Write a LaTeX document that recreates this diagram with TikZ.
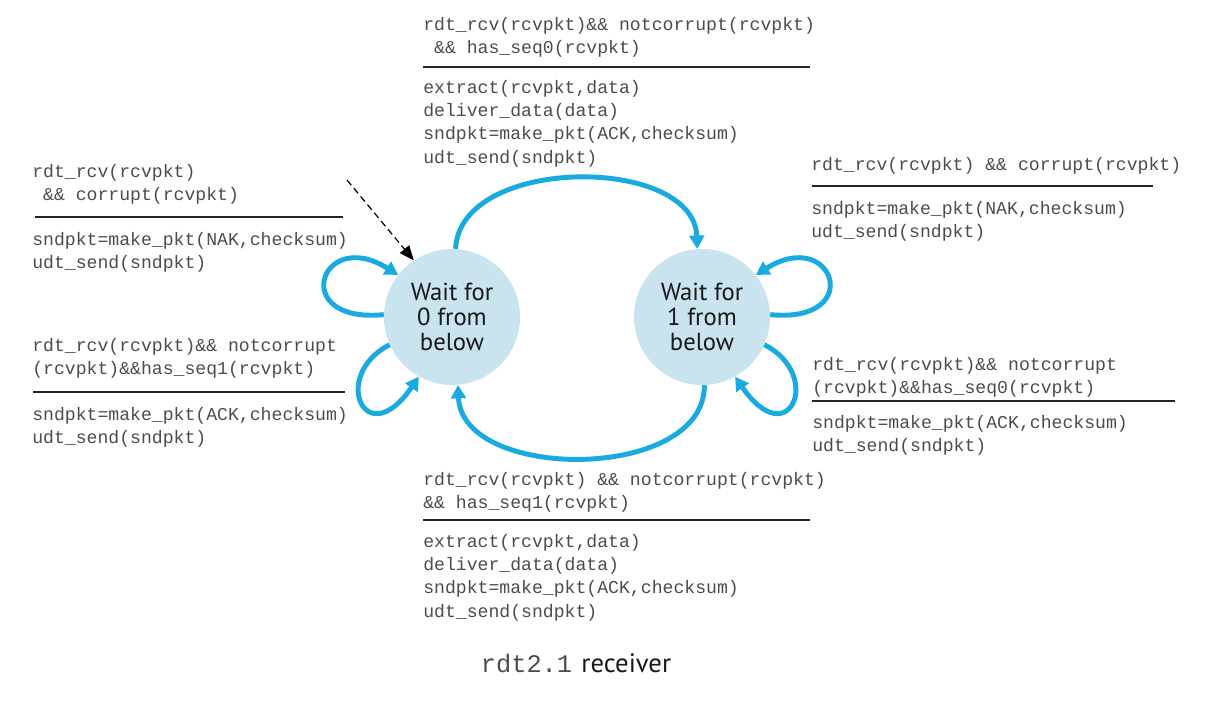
\documentclass[tikz,border=0pt]{standalone}
\usepackage{fontspec}
\setmonofont{Liberation Mono}
\newfontfamily\statefont{PT Sans}
\usetikzlibrary{arrows.meta}
\definecolor{fsmblue}{HTML}{1AAAE2}
\definecolor{statefill}{HTML}{C9E3EF}
\definecolor{codegray}{HTML}{4C4C4C}
\begin{document}
\begin{tikzpicture}[x=0.75pt,y=-0.75pt,
  code/.style={anchor=north west, inner sep=0pt, align=left,
    font=\ttfamily\fontsize{13.6}{17.5}\selectfont, text=codegray},
  state/.style={circle, fill=statefill, minimum size=102pt, inner sep=0pt,
    align=center, font=\statefont\fontsize{18.5}{18.75}\selectfont, text=black!90},
  trans/.style={draw=fsmblue, line width=3.7pt,
    -{Triangle[length=10pt,width=11pt]}},
  initarrow/.style={draw=black, dashed, dash pattern=on 5pt off 3pt, line width=0.9pt,
    -{Triangle[length=11pt,width=9pt]}},
  rulel/.style={draw=black!85, line width=1.1pt}]
\useasboundingbox (0,0) rectangle (1212,700);

% states
\node[state] (s0) at (452,317) {Wait for\\0 from\\below};
\node[state] (s1) at (702,317) {Wait for\\1 from\\below};

% initial arrow
\coordinate (init) at (347,180);
\draw[initarrow] (init) -- (s0.124);

% transitions
\draw[trans] (s0.87) .. controls (460,155) and (694,155) .. (s1.94);
\draw[trans] (s1.272) .. controls (705,482) and (462,482) .. (s0.275);
\draw[trans] (s0.178) .. controls (288,324) and (320,226) .. (s0.142);
\draw[trans] (s0.204) .. controls (330,375) and (365,455) .. (s0.241);
\draw[trans] (s1.2) .. controls (866,324) and (834,226) .. (s1.38);
\draw[trans] (s1.336) .. controls (824,375) and (789,455) .. (s1.299);

% top transition label
\node[code] (tc) at (423,13.7) {\strut rdt\_rcv(rcvpkt)\&\& notcorrupt(rcvpkt)\\\strut\hphantom{r}\&\& has\_seq0(rcvpkt)};
\coordinate (tra) at (423,67); \coordinate (trb) at (810,67);
\draw[rulel] (tra) -- (trb);
\node[code] (ta) at (423,76.7) {\strut extract(rcvpkt,data)\\\strut deliver\_data(data)\\\strut sndpkt=make\_pkt(ACK,checksum)\\\strut udt\_send(sndpkt)};

% left top
\node[code] (ltc) at (32,160.7) {\strut rdt\_rcv(rcvpkt)\\\strut\hphantom{r}\&\& corrupt(rcvpkt)};
\coordinate (ltra) at (35,217); \coordinate (ltrb) at (343,217);
\draw[rulel] (ltra) -- (ltrb);
\node[code] (lta) at (32,228.7) {\strut sndpkt=make\_pkt(NAK,checksum)\\\strut udt\_send(sndpkt)};

% left bottom
\node[code] (lbc) at (32,334.7) {\strut rdt\_rcv(rcvpkt)\&\& notcorrupt\\\strut(rcvpkt)\&\&has\_seq1(rcvpkt)};
\coordinate (lbra) at (33,392); \coordinate (lbrb) at (345,392);
\draw[rulel] (lbra) -- (lbrb);
\node[code] (lba) at (32,403.7) {\strut sndpkt=make\_pkt(ACK,checksum)\\\strut udt\_send(sndpkt)};

% right top
\node[code] (rtc) at (811,153.7) {\strut rdt\_rcv(rcvpkt) \&\& corrupt(rcvpkt)};
\coordinate (rtra) at (812,186); \coordinate (rtrb) at (1153,186);
\draw[rulel] (rtra) -- (rtrb);
\node[code] (rta) at (811,197.7) {\strut sndpkt=make\_pkt(NAK,checksum)\\\strut udt\_send(sndpkt)};

% right bottom
\node[code] (rbc) at (812,353.7) {\strut rdt\_rcv(rcvpkt)\&\& notcorrupt\\\strut(rcvpkt)\&\&has\_seq0(rcvpkt)};
\coordinate (rbra) at (812,401); \coordinate (rbrb) at (1175,401);
\draw[rulel] (rbra) -- (rbrb);
\node[code] (rba) at (812,411.7) {\strut sndpkt=make\_pkt(ACK,checksum)\\\strut udt\_send(sndpkt)};

% bottom
\node[code] (bc) at (423,468.7) {\strut rdt\_rcv(rcvpkt) \&\& notcorrupt(rcvpkt)\\\strut\&\& has\_seq1(rcvpkt)};
\coordinate (bra) at (423,520); \coordinate (brb) at (810,520);
\draw[rulel] (bra) -- (brb);
\node[code] (ba) at (423,530.7) {\strut extract(rcvpkt,data)\\\strut deliver\_data(data)\\\strut sndpkt=make\_pkt(ACK,checksum)\\\strut udt\_send(sndpkt)};

% caption
\node[inner sep=0pt, text=black!90] (cap) at (576,663) {{\ttfamily\fontsize{19}{20}\selectfont\color{codegray}rdt2.1}\hspace{7pt}{\statefont\fontsize{20}{20}\selectfont receiver}};
\end{tikzpicture}
\end{document}
